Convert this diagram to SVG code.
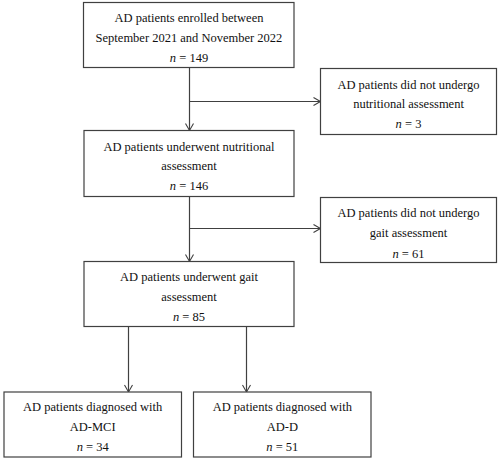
<svg xmlns="http://www.w3.org/2000/svg" width="500" height="460" viewBox="0 0 500 460">
<defs>
<style>
.box{fill:#fff;stroke:#404040;stroke-width:1.2}
.lbl{font-family:"Liberation Serif","Times New Roman",serif;font-size:12.5px;fill:#111;text-anchor:middle}
.it{font-style:italic}
.conn{fill:none;stroke:#404040;stroke-width:1.2}
</style>
<marker id="arr" markerWidth="10" markerHeight="10" refX="8" refY="5" orient="auto" markerUnits="userSpaceOnUse">
<path d="M1,1 L8,5 L1,9" fill="none" stroke="#404040" stroke-width="1.1"/>
</marker>
</defs>
<rect width="500" height="460" fill="#fff"/>
<g id="connectors">
<line class="conn" x1="189.5" y1="67.5" x2="189.5" y2="130.5" marker-end="url(#arr)"/>
<line class="conn" x1="189.5" y1="101.5" x2="320.5" y2="101.5" marker-end="url(#arr)"/>
<line class="conn" x1="189.5" y1="196.5" x2="189.5" y2="261.5" marker-end="url(#arr)"/>
<line class="conn" x1="189.5" y1="228.5" x2="320.5" y2="228.5" marker-end="url(#arr)"/>
<line class="conn" x1="128.5" y1="326.5" x2="128.5" y2="392" marker-end="url(#arr)"/>
<line class="conn" x1="246.5" y1="326.5" x2="246.5" y2="392" marker-end="url(#arr)"/>
</g>
<g id="enrolled">
<rect class="box" x="83.5" y="2.5" width="210.5" height="65"/>
<text class="lbl" x="189" y="21.5">AD patients enrolled between</text>
<text class="lbl" x="189" y="41.5">September 2021 and November 2022</text>
<text class="lbl" x="189" y="61.5"><tspan class="it">n</tspan> = 149</text>
</g>
<g id="no-nutrition">
<rect class="box" x="320.5" y="68.5" width="176" height="66"/>
<text class="lbl" x="408.5" y="88.5">AD patients did not undergo</text>
<text class="lbl" x="408.5" y="108">nutritional assessment</text>
<text class="lbl" x="408.5" y="128"><tspan class="it">n</tspan> = 3</text>
</g>
<g id="nutrition">
<rect class="box" x="84" y="130.5" width="210" height="66"/>
<text class="lbl" x="189" y="150.5">AD patients underwent nutritional</text>
<text class="lbl" x="189" y="170">assessment</text>
<text class="lbl" x="189" y="189.5"><tspan class="it">n</tspan> = 146</text>
</g>
<g id="no-gait">
<rect class="box" x="320.5" y="197.5" width="176" height="65"/>
<text class="lbl" x="408.5" y="217">AD patients did not undergo</text>
<text class="lbl" x="408.5" y="237">gait assessment</text>
<text class="lbl" x="408.5" y="257.5"><tspan class="it">n</tspan> = 61</text>
</g>
<g id="gait">
<rect class="box" x="84" y="261.5" width="210" height="65"/>
<text class="lbl" x="189" y="281">AD patients underwent gait</text>
<text class="lbl" x="189" y="301">assessment</text>
<text class="lbl" x="189" y="321"><tspan class="it">n</tspan> = 85</text>
</g>
<g id="mci">
<rect class="box" x="4" y="392" width="177.5" height="65"/>
<text class="lbl" x="92.7" y="411">AD patients diagnosed with</text>
<text class="lbl" x="92.7" y="431">AD-MCI</text>
<text class="lbl" x="92.7" y="451"><tspan class="it">n</tspan> = 34</text>
</g>
<g id="dementia">
<rect class="box" x="193.5" y="392" width="177.5" height="65"/>
<text class="lbl" x="282.3" y="411">AD patients diagnosed with</text>
<text class="lbl" x="282.3" y="431">AD-D</text>
<text class="lbl" x="282.3" y="451"><tspan class="it">n</tspan> = 51</text>
</g>
</svg>
